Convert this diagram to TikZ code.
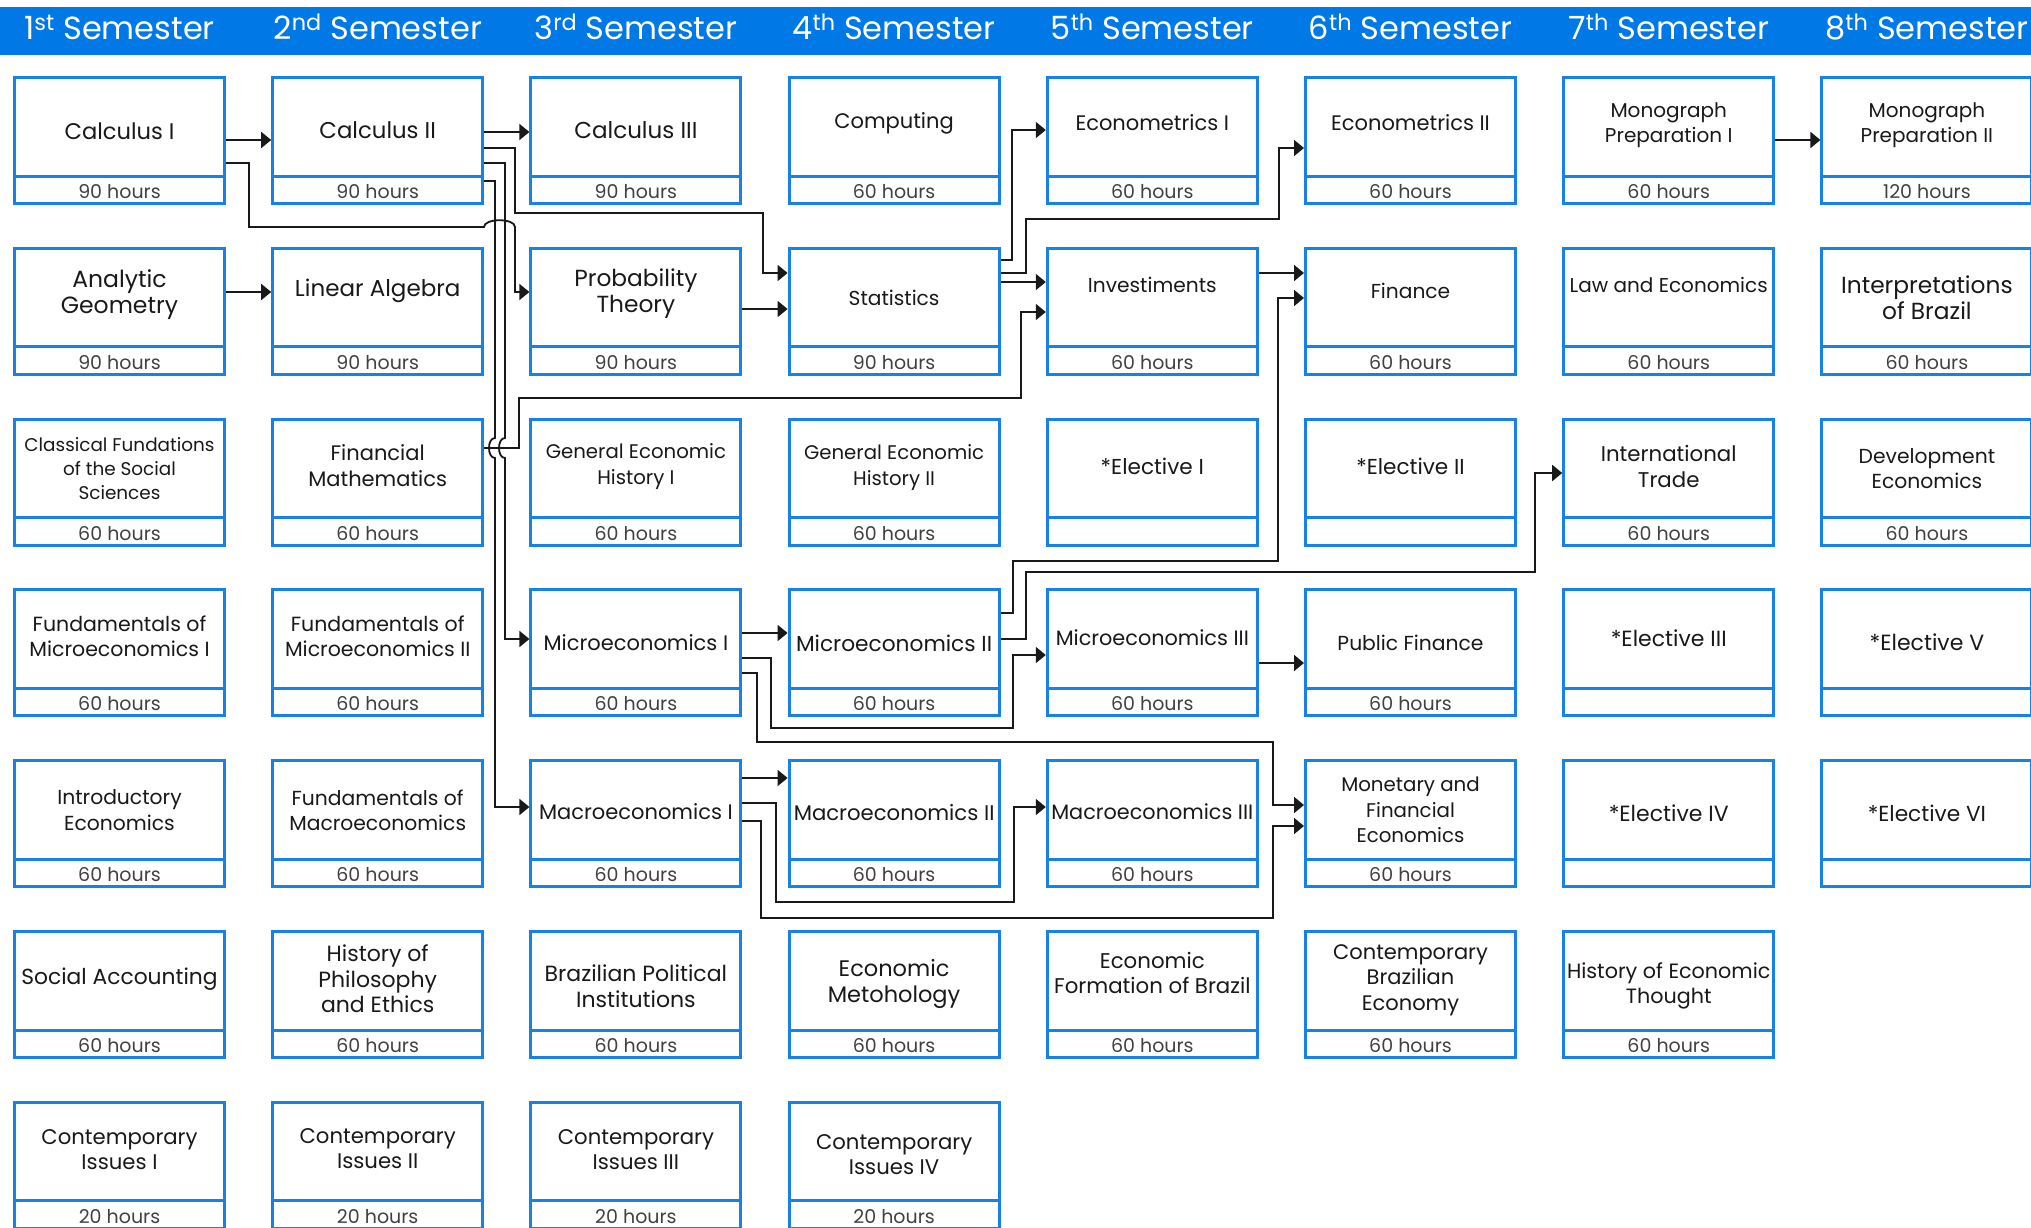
\documentclass[tikz,border=0pt]{standalone}
\usepackage{fontspec}
\setmainfont{Poppins}
\usetikzlibrary{arrows.meta}
\definecolor{hdrblue}{RGB}{0,120,230}
\definecolor{boxblue}{RGB}{22,130,232}
\definecolor{ink}{RGB}{25,25,25}
\definecolor{hrsink}{RGB}{65,65,65}
\newcommand{\course}[7]{%
  \node[coursebox] (#1) at (#2,#3+64.5) {};
  \draw[boxline] (#2-105,#3+100) -- (#2+105,#3+100);
  \node[titletext,#6] (#1t) at (#2,#3+51+#7) {#4};
  \node[hourtext] (#1h) at (#2,#3+115.5) {#5};
}
\begin{document}
\begin{tikzpicture}[x=1pt,y=-1pt,
  coursebox/.style={draw=boxblue, line width=3pt, minimum width=210pt, minimum height=126pt, inner sep=0pt, fill=white},
  boxline/.style={draw=boxblue, line width=3pt},
  titletext/.style={align=center, inner sep=0pt, text=ink},
  fs/.style={font=\fontsize{#1}{25.5}\selectfont},
  hourtext/.style={inner sep=0pt, text=hrsink, font=\fontsize{19}{20}\selectfont},
  semhead/.style={text=white, anchor=base, inner sep=0pt, font=\fontsize{32}{32}\selectfont},
  conn/.style={draw=ink, line width=1.8pt, -{Triangle[length=10pt,width=16pt]}},
]
\useasboundingbox (0,0) rectangle (2031,1228);
\clip (0,0) rectangle (2031,1228);
\fill[white] (0,0) rectangle (2031,1228);
% header
\fill[hdrblue] (0,7) rectangle (2031,55);
\node[semhead] (s1) at (119.5,40) {1\textsuperscript{st} Semester};
\node[semhead] (s2) at (377.7,40) {2\textsuperscript{nd} Semester};
\node[semhead] (s3) at (635.9,40) {3\textsuperscript{rd} Semester};
\node[semhead] (s4) at (894.1,40) {4\textsuperscript{th} Semester};
\node[semhead] (s5) at (1152.3,40) {5\textsuperscript{th} Semester};
\node[semhead] (s6) at (1410.5,40) {6\textsuperscript{th} Semester};
\node[semhead] (s7) at (1668.7,40) {7\textsuperscript{th} Semester};
\node[semhead] (s8) at (1926.9,40) {8\textsuperscript{th} Semester};
% row 1
\course{calcI}{119.5}{76}{Calculus I}{90 hours}{fs=22.6}{4}
\course{calcII}{377.7}{76}{Calculus II}{90 hours}{fs=22.8}{3}
\course{calcIII}{635.9}{76}{Calculus III}{90 hours}{fs=23}{3}
\course{computing}{894.1}{76}{Computing}{60 hours}{fs=21}{-4}
\course{econI}{1152.3}{76}{Econometrics I}{60 hours}{fs=21}{-4}
\course{econII}{1410.5}{76}{Econometrics II}{60 hours}{fs=21}{-4}
\course{monoI}{1668.7}{76}{Monograph\\Preparation I}{60 hours}{fs=20}{-2}
\course{monoII}{1926.9}{76}{Monograph\\Preparation II}{120 hours}{fs=20}{-2}
% row 2
\course{analytic}{119.5}{246.8}{Analytic\\Geometry}{90 hours}{fs=23.5}{-3}
\course{linalg}{377.7}{246.8}{Linear Algebra}{90 hours}{fs=23}{-7}
\course{prob}{635.9}{246.8}{Probability\\Theory}{90 hours}{fs=23.3}{-4}
\course{stats}{894.1}{246.8}{Statistics}{90 hours}{fs=20.2}{0}
\course{invest}{1152.3}{246.8}{Investiments}{60 hours}{fs=20.2}{-13}
\course{finance}{1410.5}{246.8}{Finance}{60 hours}{fs=20.2}{-7}
\course{law}{1668.7}{246.8}{Law and Economics}{60 hours}{fs=20}{-13}
\course{interp}{1926.9}{246.8}{Interpretations\\of Brazil}{60 hours}{fs=23.3}{0}
% row 3
\course{classical}{119.5}{417.6}{Classical Fundations\\of the Social\\Sciences}{60 hours}{font=\fontsize{18.4}{24}\selectfont}{0}
\course{finmath}{377.7}{417.6}{Financial\\Mathematics}{60 hours}{fs=21}{-3}
\course{gehI}{635.9}{417.6}{General Economic\\History I}{60 hours}{fs=19.7}{-2}
\course{gehII}{894.1}{417.6}{General Economic\\History II}{60 hours}{fs=19.7}{-1}
\course{electI}{1152.3}{417.6}{*Elective I}{}{fs=21.6}{-2}
\course{electII}{1410.5}{417.6}{*Elective II}{}{fs=21.6}{-2}
\course{intl}{1668.7}{417.6}{International\\Trade}{60 hours}{fs=21.3}{-2}
\course{devel}{1926.9}{417.6}{Development\\Economics}{60 hours}{fs=20.3}{0}
% row 4
\course{fmicroI}{119.5}{588.4}{Fundamentals of\\Microeconomics I}{60 hours}{fs=20.5}{-3}
\course{fmicroII}{377.7}{588.4}{Fundamentals of\\Microeconomics II}{60 hours}{fs=20.5}{-3}
\course{microI}{635.9}{588.4}{Microeconomics I}{60 hours}{fs=21}{3}
\course{microII}{894.1}{588.4}{Microeconomics II}{60 hours}{fs=21.7}{4}
\course{microIII}{1152.3}{588.4}{Microeconomics III}{60 hours}{fs=20.8}{-2}
\course{pubfin}{1410.5}{588.4}{Public Finance}{60 hours}{fs=20.3}{3}
\course{electIII}{1668.7}{588.4}{*Elective III}{}{fs=22}{-1}
\course{electV}{1926.9}{588.4}{*Elective V}{}{fs=22}{3}
% row 5
\course{intro}{119.5}{759.2}{Introductory\\Economics}{60 hours}{fs=20.3}{0}
\course{fmacro}{377.7}{759.2}{Fundamentals of\\Macroeconomics}{60 hours}{fs=20.3}{0}
\course{macroI}{635.9}{759.2}{Macroeconomics I}{60 hours}{fs=21}{1}
\course{macroII}{894.1}{759.2}{Macroeconomics II}{60 hours}{fs=21.2}{2}
\course{macroIII}{1152.3}{759.2}{Macroeconomics III}{60 hours}{fs=20.8}{1}
\course{monetary}{1410.5}{759.2}{Monetary and\\Financial\\Economics}{60 hours}{fs=19.8}{0}
\course{electIV}{1668.7}{759.2}{*Elective IV}{}{fs=22}{3}
\course{electVI}{1926.9}{759.2}{*Elective VI}{}{fs=21.7}{3}
% row 6
\course{social}{119.5}{930}{Social Accounting}{60 hours}{fs=21.8}{-2}
\course{philo}{377.7}{930}{History of\\Philosophy\\and Ethics}{60 hours}{fs=22}{-2}
\course{brpol}{635.9}{930}{Brazilian Political\\Institutions}{60 hours}{fs=22}{5}
\course{metho}{894.1}{930}{Economic\\Metohology}{60 hours}{fs=22.5}{3}
\course{formation}{1152.3}{930}{Economic\\Formation of Brazil}{60 hours}{fs=21.3}{-8}
\course{contbr}{1410.5}{930}{Contemporary\\Brazilian\\Economy}{60 hours}{fs=21}{-1}
\course{hist}{1668.7}{930}{History of Economic\\Thought}{60 hours}{fs=20.7}{5}
% row 7
\course{contI}{119.5}{1100.8}{Contemporary\\Issues I}{20 hours}{fs=21.2}{-2}
\course{contII}{377.7}{1100.8}{Contemporary\\Issues II}{20 hours}{fs=21.2}{-3}
\course{contIII}{635.9}{1100.8}{Contemporary\\Issues III}{20 hours}{fs=21.2}{-2}
\course{contIV}{894.1}{1100.8}{Contemporary\\Issues IV}{20 hours}{fs=21.2}{3}
% connectors
\draw[conn] (calcI.east |- 0,140) -- (calcII.west |- 0,140);
\draw[conn] (calcI.east |- 0,163) -| (249,227) -- (484,227) .. controls (484,218) and (515,218) .. (515,227) |- (prob.west |- 0,292);
\draw[conn] (calcII.east |- 0,132) -- (calcIII.west |- 0,132);
\draw[conn] (calcII.east |- 0,148) -| (515,213) -| (763,273) -- (stats.west |- 0,273);
\draw[conn] (calcII.east |- 0,163) -| (505,438) .. controls (497,438) and (497,458) .. (505,458) |- (microI.west |- 0,639);
\draw[conn] (calcII.east |- 0,181) -| (495,438) .. controls (487,438) and (487,458) .. (495,458) |- (macroI.west |- 0,807);
\draw[conn] (finmath.east |- 0,448) -| (519,398) -| (1021,312) -- (invest.west |- 0,312);
\draw[conn] (analytic.east |- 0,292) -- (linalg.west |- 0,292);
\draw[conn] (prob.east |- 0,309) -- (stats.west |- 0,309);
\draw[conn] (stats.east |- 0,260) -| (1012,130) -- (econI.west |- 0,130);
\draw[conn] (stats.east |- 0,273) -| (1026,219) -| (1279,148) -- (econII.west |- 0,148);
\draw[conn] (stats.east |- 0,282) -- (invest.west |- 0,282);
\draw[conn] (invest.east |- 0,273) -- (finance.west |- 0,273);
\draw[conn] (microII.east |- 0,613) -| (1013,561) -| (1278,298) -- (finance.west |- 0,298);
\draw[conn] (microII.east |- 0,639) -| (1026,572) -| (1535,473) -- (intl.west |- 0,473);
\draw[conn] (microI.east |- 0,633) -- (microII.west |- 0,633);
\draw[conn] (microI.east |- 0,658) -| (771,728) -| (1013,655) -- (microIII.west |- 0,655);
\draw[conn] (microI.east |- 0,673) -| (757,742) -| (1273,805) -- (monetary.west |- 0,805);
\draw[conn] (macroI.east |- 0,778) -- (macroII.west |- 0,778);
\draw[conn] (macroI.east |- 0,803) -| (776,902) -| (1014,807) -- (macroIII.west |- 0,807);
\draw[conn] (macroI.east |- 0,821) -| (761,918) -| (1273,826) -- (monetary.west |- 0,826);
\draw[conn] (microIII.east |- 0,663) -- (pubfin.west |- 0,663);
\draw[conn] (monoI.east |- 0,140) -- (monoII.west |- 0,140);
\end{tikzpicture}
\end{document}
